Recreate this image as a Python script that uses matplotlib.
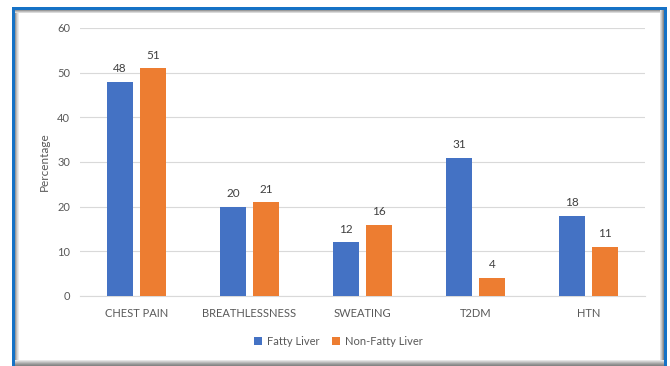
import matplotlib.pyplot as plt
import numpy as np
from matplotlib.patches import Rectangle

categories = ['CHEST PAIN', 'BREATHLESSNESS', 'SWEATING', 'T2DM', 'HTN']
fatty = [48, 20, 12, 31, 18]
non_fatty = [51, 21, 16, 4, 11]

plt.rcParams['font.family'] = ['Lato', 'DejaVu Sans']
text_col = '#595959'
W, H = 670, 366

fig = plt.figure(figsize=(6.7, 3.66), dpi=100)
ax = fig.add_axes([0.1194, 0.1913, 0.8433, 0.7322])

x = np.arange(len(categories))
w = 0.23
gap = 0.031
b1 = ax.bar(x - w / 2 - gap, fatty, w, color='#4472C4', label='Fatty Liver', zorder=3)
b2 = ax.bar(x + w / 2 + gap, non_fatty, w, color='#ED7D31', label='Non-Fatty Liver', zorder=3)

for bars in (b1, b2):
    ax.bar_label(bars, padding=5.5, fontsize=8.5, color='#404040')

ax.set_ylim(0, 60)
ax.set_xlim(-0.5, len(categories) - 0.5)
ax.set_yticks(range(0, 61, 10))
ax.set_xticks(x)
ax.set_xticklabels(categories)
ax.grid(axis='y', color='#D9D9D9', linewidth=0.8, zorder=0)
for s in ['top', 'right', 'left']:
    ax.spines[s].set_visible(False)
ax.spines['bottom'].set_color('#D9D9D9')
ax.tick_params(axis='both', length=0, labelsize=8, colors=text_col)
ax.tick_params(axis='x', pad=9)
ax.tick_params(axis='y', pad=7)
ax.set_ylabel('Percentage', fontsize=8.5, color=text_col, labelpad=5)

fig.legend(handles=[b1, b2], loc='center', bbox_to_anchor=(0.505, 0.068), ncol=2,
           frameon=False, fontsize=8, labelcolor=text_col, handlelength=0.7,
           handleheight=0.7, columnspacing=1.2, handletextpad=0.4)


def px_rect(x0, y0, x1, y1, color):
    # rectangle given in pixels, y measured from the top
    fig.patches.append(Rectangle((x0 / W, 1 - y1 / H), (x1 - x0) / W, (y1 - y0) / H,
                                 transform=fig.transFigure, facecolor=color,
                                 edgecolor='none', zorder=5))


# soft grey shading inside the frame
for i, c in enumerate(['#9A9A9A', '#BDBDBD', '#D8D8D8', '#EBEBEB']):
    px_rect(15 + i, 10, 16 + i, 366, c)
for i, c in enumerate(['#9A9A9A', '#BDBDBD', '#DADADA']):
    px_rect(15, 10 + i, 664, 11 + i, c)
for i, c in enumerate(['#8A8A8A', '#A8A8A8', '#C8C8C8', '#E0E0E0']):
    px_rect(663 - i, 10, 664 - i, 366, c)
for i, c in enumerate(['#E6E6E6', '#D0D0D0', '#BBBBBB', '#A6A6A6', '#939393', '#858585']):
    px_rect(15, 360 + i, 664, 361 + i, c)

# blue frame edges
px_rect(12, 7, 15, 366, '#1672C6')
px_rect(12, 7, 667, 10, '#1672C6')
px_rect(664, 7, 667, 366, '#1672C6')

fig.savefig('out.png', dpi=100)
